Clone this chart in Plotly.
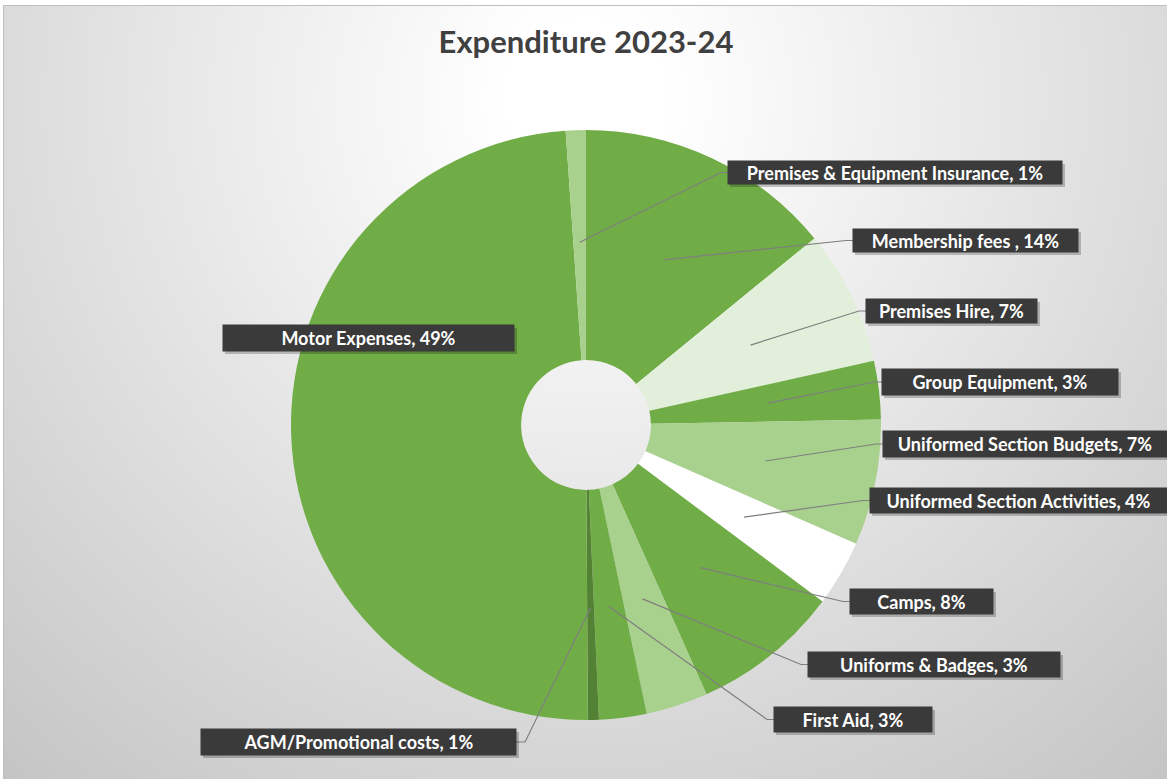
import math
import base64
import plotly.graph_objects as go

# ---------------- data ----------------
categories = ["Membership fees ", "Premises Hire", "Group Equipment", "Uniformed Section Budgets",
              "Uniformed Section Activities", "Camps", "Uniforms & Badges", "First Aid",
              "AGM/Promotional costs", "Motor Expenses", "Premises & Equipment Insurance"]
shares = [14.1, 7.4, 3.2, 6.9, 3.6, 8.1, 3.4, 2.6, 0.6, 49.0, 1.1]
slice_colors = ["#70AD47", "#E2EFDA", "#70AD47", "#A9D18E", "#FFFFFF", "#70AD47",
                "#A9D18E", "#70AD47", "#548235", "#70AD47", "#A9D18E"]
title_text = "Expenditure 2023-24"

# ---------------- layout constants (pixels) ----------------
W, H = 1167, 779
CX, CY, R = 586, 425, 295          # pie centre and radius
HOLE = 0.22
ANCHOR_FR = 0.62                    # leader line anchor radius (fraction of R)
# label boxes: centre x, centre y, width, height, side ('r' right of line, 'l' left, None no line)
label_boxes = [
    (965.5, 240.5, 225, 23, 'r'),
    (951.5, 311, 171, 24, 'r'),
    (1000, 382, 236, 26, 'r'),
    (1025, 444, 284, 26, 'r'),
    (1018.5, 500.5, 297, 25, 'r'),
    (921.5, 601.5, 143, 25, 'r'),
    (934, 664.5, 252, 25, 'r'),
    (853, 719.5, 158, 25, 'r'),
    (358.5, 742, 315, 26, 'l'),
    (368.5, 338, 291, 26, None),
    (895, 172.5, 334, 23, 'r'),
]

# ---------------- background (radial gradient) ----------------
svg = f'''<svg xmlns="http://www.w3.org/2000/svg" width="{W}" height="{H}" viewBox="0 0 {W} {H}" preserveAspectRatio="none">
<defs><radialGradient id="g" cx="586" cy="100" r="1000" gradientUnits="userSpaceOnUse">
<stop offset="0" stop-color="#ffffff"/><stop offset="0.08" stop-color="#ffffff"/><stop offset="1" stop-color="#bdbdbd"/></radialGradient></defs>
<rect x="0" y="0" width="{W}" height="{H}" fill="#ffffff"/>
<rect x="3" y="5" width="{W}" height="{H}" fill="url(#g)"/>
<line x1="3" y1="5.5" x2="{W}" y2="5.5" stroke="#bfbfbf" stroke-width="1"/>
<line x1="3.5" y1="5" x2="3.5" y2="{H}" stroke="#bfbfbf" stroke-width="1"/>
</svg>'''
bg_uri = "data:image/svg+xml;base64," + base64.b64encode(svg.encode()).decode()

fig = go.Figure()

fig.add_trace(go.Pie(
    labels=categories, values=shares, sort=False, direction="clockwise", rotation=0,
    hole=HOLE, marker=dict(colors=slice_colors, line=dict(width=0)),
    textinfo="none", hoverinfo="label+percent", showlegend=False,
    domain=dict(x=[(CX - R) / W, (CX + R) / W], y=[1 - (CY + R) / H, 1 - (CY - R) / H]),
))

total = sum(shares)
shapes = []
annotations = []
cum = 0.0
for name, val, box in zip(categories, shares, label_boxes):
    mid = (cum + val / 2) / total * 2 * math.pi
    cum += val
    ax_ = CX + ANCHOR_FR * R * math.sin(mid)
    ay_ = CY - ANCHOR_FR * R * math.cos(mid)
    bx, by, bw, bh, side = box
    pct = round(val / total * 100)
    # leader line
    if side == 'r':
        ex = bx - bw / 2
        path = f"M {ax_:.1f},{ay_:.1f} L {ex - 7:.1f},{by:.1f} L {ex:.1f},{by:.1f}"
    elif side == 'l':
        ex = bx + bw / 2
        path = f"M {ax_:.1f},{ay_:.1f} L {ex + 9:.1f},{by:.1f} L {ex:.1f},{by:.1f}"
    else:
        path = None
    if path:
        shapes.append(dict(type="path", path=path, xref="x", yref="y", layer="above",
                           line=dict(color="#7f7f7f", width=1.2)))
    # shadow
    shapes.append(dict(type="rect", xref="x", yref="y", layer="above",
                       x0=bx - bw / 2 + 2, x1=bx + bw / 2 + 3, y0=by - bh / 2 + 3, y1=by + bh / 2 + 3,
                       fillcolor="rgba(0,0,0,0.22)", line=dict(width=0)))
    annotations.append(dict(
        x=bx, y=by, xref="x", yref="y", xanchor="center", yanchor="middle",
        text=f"{name}, {pct}%", showarrow=False, width=bw, height=bh, borderpad=0,
        bgcolor="#3a3a3a", align="center", valign="middle",
        font=dict(family="Lato, 'Open Sans', sans-serif", size=18, color="#ffffff", weight="bold"),
    ))

fig.update_layout(
    width=W, height=H, margin=dict(l=0, r=0, t=0, b=0),
    paper_bgcolor="#ffffff", plot_bgcolor="rgba(0,0,0,0)",
    xaxis=dict(range=[0, W], visible=False, fixedrange=True),
    yaxis=dict(range=[H, 0], visible=False, fixedrange=True),
    images=[dict(source=bg_uri, xref="paper", yref="paper", x=0, y=1, sizex=1, sizey=1,
                 sizing="stretch", layer="below", xanchor="left", yanchor="top")],
    title=dict(text=title_text, x=586 / W, y=1 - 42 / H, xanchor="center", yanchor="middle",
               font=dict(family="Lato, 'Open Sans', sans-serif", size=31, color="#404040", weight="bold")),
    shapes=shapes, annotations=annotations,
)

fig.write_html("out.html", config={"displayModeBar": False},
               post_script="document.body.style.margin='0';")
